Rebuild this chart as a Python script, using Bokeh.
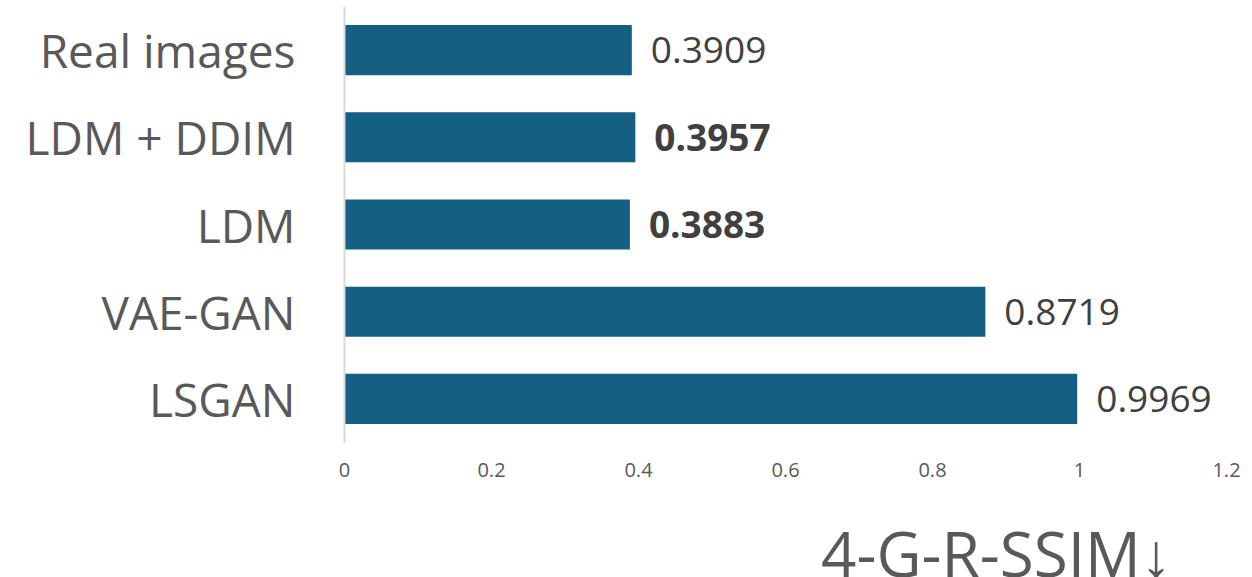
from bokeh.plotting import figure
from bokeh.layouts import column
from bokeh.models import FactorRange, Range1d, FixedTicker, ColumnDataSource, Legend, LegendItem
from bokeh.core.properties import value
from bokeh.embed import file_html
from bokeh.resources import INLINE

methods = ["Real images", "LDM + DDIM", "LDM", "VAE-GAN", "LSGAN"]
scores = [0.3909, 0.3957, 0.3883, 0.8719, 0.9969]
highlighted = ["LDM + DDIM", "LDM"]
x_ticks = [0, 0.2, 0.4, 0.6, 0.8, 1, 1.2]
x_tick_labels = ["0", "0.2", "0.4", "0.6", "0.8", "1", "1.2"]
series_name = "4-G-R-SSIM\u2193"

FONT = "Open Sans"
BAR = "#156082"
LABEL = "#595959"

p = figure(width=1252, height=500, frame_width=882, frame_height=436,
           output_backend="svg", toolbar_location=None,
           y_range=FactorRange(factors=list(reversed(methods)), range_padding=0),
           x_range=Range1d(0, 1.2),
           min_border_left=344, min_border_right=26, min_border_top=6, min_border_bottom=58)
p.outline_line_color = None
p.xgrid.grid_line_color = None
p.ygrid.grid_line_color = None

src = ColumnDataSource(dict(method=methods, score=scores))
bars = p.hbar(y="method", right="score", left=0, height=0.575, source=src,
              fill_color=BAR, line_color=None)

def subset(flag):
    rows = [(m, s) for m, s in zip(methods, scores) if (m in highlighted) == flag]
    return ColumnDataSource(dict(method=[r[0] for r in rows],
                                 score=[r[1] for r in rows],
                                 label=[f"{r[1]:.4f}" for r in rows]))

p.text(x="score", y="method", text="label", source=subset(False), x_offset=19,
       text_baseline="middle", text_align="left", text_font=value(FONT),
       text_font_size="37px", text_color="#404040")
p.text(x="score", y="method", text="label", source=subset(True), x_offset=19,
       text_baseline="middle", text_align="left", text_font=value(FONT),
       text_font_size="37px", text_color="#404040", text_font_style="bold")

xa = p.xaxis[0]
xa.ticker = FixedTicker(ticks=x_ticks)
xa.major_label_overrides = {t: l for t, l in zip(x_ticks, x_tick_labels)}
xa.axis_line_color = None
xa.major_tick_line_color = None
xa.minor_tick_line_color = None
xa.major_tick_out = 0
xa.major_label_standoff = 20
xa.major_label_text_font = FONT
xa.major_label_text_font_size = "20px"
xa.major_label_text_color = LABEL

ya = p.yaxis[0]
ya.axis_line_color = "#d9d9d9"
ya.axis_line_width = 2
ya.major_tick_line_color = None
ya.minor_tick_line_color = None
ya.major_tick_out = 0
ya.major_label_standoff = 49
ya.major_label_text_font = FONT
ya.major_label_text_font_size = "46px"
ya.major_label_text_color = LABEL

# legend strip below the chart
lg = figure(width=1252, height=77, output_backend="svg", toolbar_location=None,
            x_axis_location=None, y_axis_location=None,
            x_range=Range1d(0, 1), y_range=Range1d(0, 1),
            min_border_left=0, min_border_right=0, min_border_top=0, min_border_bottom=0)
lg.outline_line_color = None
lg.xgrid.grid_line_color = None
lg.ygrid.grid_line_color = None
key = lg.hbar(y="score", right="score", left=0, height=0.5,
              source=ColumnDataSource(dict(score=[])),
              fill_color=BAR, line_color=None)

legend = Legend(items=[LegendItem(label=series_name, renderers=[key])],
                location=(419, -18), orientation="horizontal",
                glyph_width=39, glyph_height=39, label_standoff=19,
                padding=0, margin=0, border_line_color=None,
                background_fill_color=None, background_fill_alpha=0,
                label_text_font=FONT, label_text_font_size="62px",
                label_text_color=LABEL)
lg.add_layout(legend, "center")

layout = column(p, lg, spacing=0)
open("out.html", "w").write(file_html(layout, INLINE))
